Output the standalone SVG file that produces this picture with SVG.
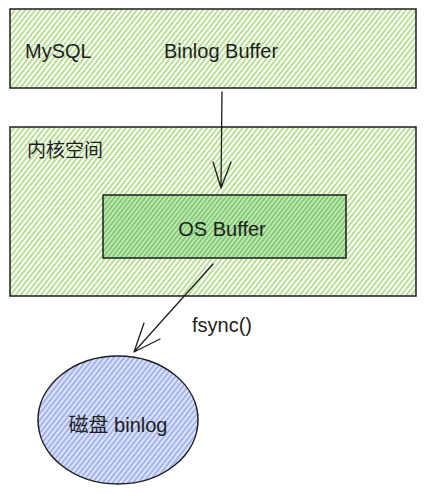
<svg xmlns="http://www.w3.org/2000/svg" width="426" height="493" viewBox="0 0 426 493">
<style>
.box{stroke:#1e1e1e;stroke-width:1.5;}
.lbl{font-family:"Liberation Sans","Noto Sans CJK SC",sans-serif;font-size:20px;fill:#1e1e1e;}
.cn{font-family:"Noto Sans CJK SC","Liberation Sans",sans-serif;font-size:19px;fill:#1e1e1e;}
.conn{stroke:#1e1e1e;stroke-width:1.3;fill:none;stroke-linecap:round;stroke-linejoin:round;}
</style>
<defs>
<pattern id="hg" width="4" height="4" patternUnits="userSpaceOnUse" patternTransform="rotate(-52)">
<line x1="0" y1="2" x2="4" y2="2" stroke="#a2d673" stroke-width="1.5"/>
</pattern>
<pattern id="hdg" width="3.5" height="3.5" patternUnits="userSpaceOnUse" patternTransform="rotate(-52)">
<rect width="3.5" height="3.5" fill="#c3e8b4"/>
<line x1="0" y1="1.75" x2="3.5" y2="1.75" stroke="#73c76a" stroke-width="1.5"/>
</pattern>
<pattern id="hb" width="4" height="4" patternUnits="userSpaceOnUse" patternTransform="rotate(-52)">
<rect width="4" height="4" fill="#dde4fb"/>
<line x1="0" y1="2" x2="4" y2="2" stroke="#8aa0ee" stroke-width="1.4"/>
</pattern>
</defs>
<rect width="426" height="493" fill="#ffffff"/>
<g id="mysql">
<rect class="box" x="10" y="9" width="406" height="79" fill="url(#hg)"/>
<text class="lbl" x="25" y="58" font-size="16">MySQL</text>
<text class="lbl" x="221" y="58" text-anchor="middle">Binlog Buffer</text>
</g>
<g id="kernel">
<rect class="box" x="10" y="127" width="406" height="169" fill="url(#hg)"/>
<text class="cn" x="27" y="157">内核空间</text>
</g>
<g id="osbuffer">
<rect class="box" x="103" y="195" width="243" height="63" fill="url(#hdg)"/>
<text class="lbl" x="222" y="236" text-anchor="middle">OS Buffer</text>
</g>
<g id="disk">
<ellipse class="box" cx="118" cy="420" rx="80" ry="64" fill="url(#hb)"/>
<text class="lbl" x="118" y="432" text-anchor="middle">磁盘 binlog</text>
</g>
<g id="connectors">
<path class="conn" d="M222 92 L221 188 M213 162 L221 188 L231 162"/>
<path class="conn" d="M213 264 L134 352 M144 323 L134 352 L160 339"/>
<text class="lbl" x="192" y="332">fsync()</text>
</g>
</svg>
